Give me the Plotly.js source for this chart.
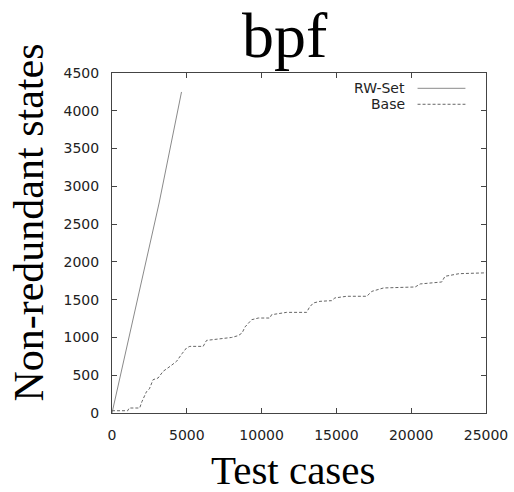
<!DOCTYPE html>
<html>
<head>
<meta charset="utf-8">
<script src="https://cdn.plot.ly/plotly-3.0.1.min.js"></script>
<style>html,body{margin:0;padding:0;background:#fff;}#chart{width:514px;height:492px;}</style>
</head>
<body>
<div id="chart"></div>
<script>
const chartTitle = "bpf";
const xTitle = "Test cases";
const yTitle = "Non-redundant states";
const seriesNames = ["RW-Set", "Base"];

const rwX = [0, 1300, 2640, 3150, 4646];
const rwY = [0, 1130, 2294, 2779, 4249];

const baseX = [0, 1050, 1150, 1850, 2000, 2300, 2500, 2745, 3080, 3415, 3900, 4312, 4700, 4982, 5203, 6095, 6320, 7000, 7660, 8000, 8440, 8700, 8891, 9337, 9783, 10550, 10670, 11670, 13010, 13200, 13460, 13900, 14680, 14900, 15690, 17030, 17370, 18150, 20270, 20600, 22040, 22260, 23200, 24730, 25000];
const baseY = [30, 30, 66, 66, 150, 280, 320, 441, 463, 551, 620, 683, 790, 861, 882, 882, 961, 980, 993, 1000, 1024, 1060, 1139, 1235, 1257, 1257, 1301, 1332, 1332, 1400, 1456, 1478, 1487, 1523, 1545, 1545, 1610, 1655, 1668, 1708, 1734, 1809, 1844, 1853, 1855];

const xTicks = [0, 5000, 10000, 15000, 20000, 25000];
const yTicks = [0, 500, 1000, 1500, 2000, 2500, 3000, 3500, 4000, 4500];

const serif = "Liberation Serif, Times New Roman, serif";
const sans = "DejaVu Sans, Verdana, sans-serif";

const traces = [
  {x: rwX, y: rwY, name: seriesNames[0], type: "scatter", mode: "lines",
   line: {color: "#8a8a8a", width: 1}, showlegend: false},
  {x: baseX, y: baseY, name: seriesNames[1], type: "scatter", mode: "lines",
   line: {color: "#666666", width: 1, dash: "3px,2px"}, showlegend: false}
];

const axisCommon = {
  showline: true, mirror: "ticks", linecolor: "#444", linewidth: 1,
  ticks: "inside", ticklen: 5, tickcolor: "#444", showgrid: false, zeroline: false,
  tickfont: {family: sans, size: 14, color: "#222"}, fixedrange: true
};

const layout = {
  width: 514, height: 492,
  margin: {l: 112, r: 28, t: 73, b: 79},
  paper_bgcolor: "#fff", plot_bgcolor: "#fff",
  showlegend: false,
  xaxis: Object.assign({}, axisCommon, {range: [0, 25000], tickvals: xTicks, ticktext: xTicks.map(String), ticklabelstandoff: 9}),
  yaxis: Object.assign({}, axisCommon, {range: [0, 4500], tickvals: yTicks, ticktext: yTicks.map(String), ticklabelstandoff: 9}),
  annotations: [
    {text: chartTitle, xref: "paper", yref: "paper", x: 0.463, y: 1.0, xanchor: "center", yanchor: "bottom",
     showarrow: false, font: {family: serif, size: 64, color: "#000"}},
    {text: xTitle, xref: "paper", yref: "paper", x: 0.484, y: -0.095, xanchor: "center", yanchor: "top",
     showarrow: false, font: {family: serif, size: 41, color: "#000"}},
    {text: yTitle, xref: "paper", yref: "paper", x: -0.222, y: 0.56, xanchor: "center", yanchor: "middle",
     textangle: -90, showarrow: false, font: {family: serif, size: 42, color: "#000"}},
    {text: seriesNames[0], xref: "paper", yref: "paper", x: 0.785, y: 0.955, xanchor: "right", yanchor: "middle",
     height: 14, borderpad: 0, showarrow: false, font: {family: sans, size: 14, color: "#222"}},
    {text: seriesNames[1], xref: "paper", yref: "paper", x: 0.785, y: 0.908, xanchor: "right", yanchor: "middle",
     height: 14, borderpad: 0, showarrow: false, font: {family: sans, size: 14, color: "#222"}}
  ],
  shapes: [
    {type: "line", xref: "paper", yref: "paper", x0: 0.817, x1: 0.945, y0: 0.955, y1: 0.955,
     line: {color: "#8a8a8a", width: 1}},
    {type: "line", xref: "paper", yref: "paper", x0: 0.817, x1: 0.945, y0: 0.908, y1: 0.908,
     line: {color: "#666666", width: 1, dash: "3px,2px"}}
  ]
};

Plotly.newPlot("chart", traces, layout, {staticPlot: true, displayModeBar: false});
</script>
</body>
</html>
